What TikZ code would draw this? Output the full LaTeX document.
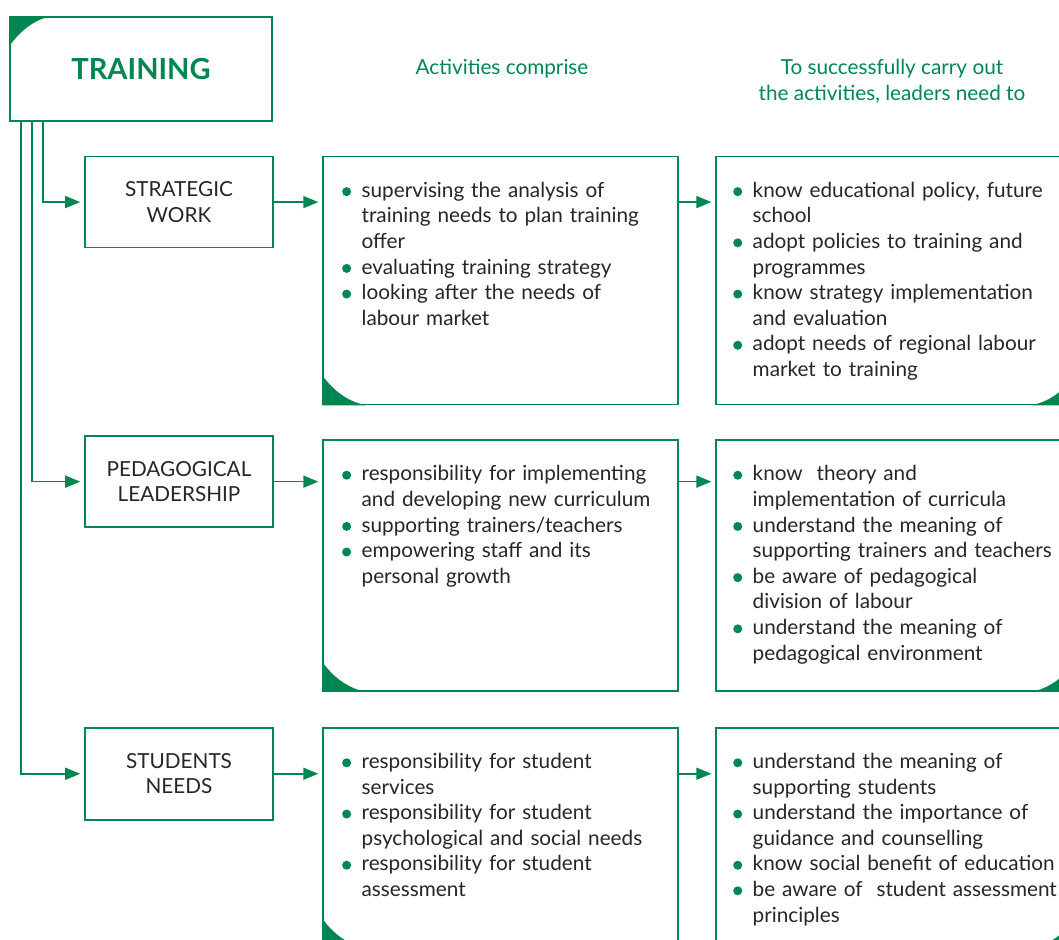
\documentclass[tikz,border=0pt]{standalone}
\usepackage{fontspec}
\setmainfont{Lato}
\usetikzlibrary{positioning}
\usetikzlibrary{arrows.meta}
\definecolor{tgreen}{RGB}{0,135,81}
\definecolor{tgray}{RGB}{38,38,38}
\def\lw{0.9pt}
\newcommand\bodyfont{\fontsize{11.8}{14.57}\selectfont}
\newcommand\bitem{\par\noindent\hangindent=0.46cm\hangafter=1%
  \makebox[0.46cm][l]{\hspace{0.07cm}\tikz[baseline={(0,-0.27em)}]\fill[tgreen] (0,0) circle (0.09cm);}}
\tikzset{
box/.style={draw=tgreen, line width=\lw, inner sep=0pt, text=tgray, font=\bodyfont},
smallbox/.style={box, minimum width=3.76cm, minimum height=1.82cm, align=center},
actbox/.style={box, minimum width=7.10cm, minimum height=#1},
needbox/.style={box, minimum width=7.16cm, minimum height=#1},
itemlist/.style={text width=6.8cm, align=left, inner sep=0pt, text=tgray, font=\bodyfont},
heading/.style={text=tgreen, font=\bodyfont, align=center},
conn/.style={draw=tgreen, line width=\lw, -{Triangle[length=0.3cm,width=0.24cm]}, shorten >=0.08cm},
}

\begin{document}
\begin{tikzpicture}
\useasboundingbox (0,0) rectangle (21.18,-18.8);
\clip (0,0) rectangle (21.18,-18.8);

\node[box, minimum width=5.24cm, minimum height=2.08cm] (train) at (2.82,-1.38)
  {\fontsize{16.5}{18}\selectfont\bfseries\textcolor{tgreen}{TRAINING}};
\node[heading] (hact) at (10.04,-1.38) {Activities comprise};
\node[heading] (hneed) at (17.84,-1.62) {To successfully carry out\\the activities, leaders need to};

%
\node[smallbox, below right=0.68cm and 1.5cm of train.south west] (strat) {STRATEGIC\\WORK};
\node[smallbox, below=3.74cm of strat] (ped) {PEDAGOGICAL\\LEADERSHIP};
\node[smallbox, below=3.98cm of ped, minimum height=1.84cm] (stud) {STUDENTS\\NEEDS};

\node[actbox=4.96cm, below right=0cm and 0.97cm of strat.north east] (act1) {};
\node[actbox=5.02cm, below right=0.08cm and 0.97cm of ped.north east] (act2) {};
\node[actbox=4.40cm, below right=0cm and 0.97cm of stud.north east] (act3) {};

\node[needbox=4.96cm, right=0.73cm of act1.north east, anchor=north west] (need1) {};
\node[needbox=5.02cm, right=0.73cm of act2.north east, anchor=north west] (need2) {};
\node[needbox=4.40cm, right=0.73cm of act3.north east, anchor=north west] (need3) {};

%
\fill[tgreen] (train.north west) -- ++(0,-0.6) .. controls +(0.24,0.33) and +(-0.33,-0.07) .. ([xshift=0.84cm]train.north west) -- cycle;
\fill[tgreen] (act1.south west) -- ++(0,0.6) .. controls +(0.24,-0.33) and +(-0.35,0.07) .. ([xshift=0.88cm]act1.south west) -- cycle;
\fill[tgreen] (act2.south west) -- ++(0,0.6) .. controls +(0.24,-0.33) and +(-0.35,0.07) .. ([xshift=0.88cm]act2.south west) -- cycle;
\fill[tgreen] (act3.south west) -- ++(0,0.6) .. controls +(0.24,-0.33) and +(-0.35,0.07) .. ([xshift=0.88cm]act3.south west) -- cycle;
\fill[tgreen] (need1.south east) -- ++(0,0.6) .. controls +(-0.24,-0.33) and +(0.35,0.07) .. ([xshift=-0.88cm]need1.south east) -- cycle;
\fill[tgreen] (need2.south east) -- ++(0,0.6) .. controls +(-0.24,-0.33) and +(0.35,0.07) .. ([xshift=-0.88cm]need2.south east) -- cycle;
\fill[tgreen] (need3.south east) -- ++(0,0.6) .. controls +(-0.24,-0.33) and +(0.35,0.07) .. ([xshift=-0.88cm]need3.south east) -- cycle;

%
\node[itemlist, below right=0.31cm and 0.32cm of act1.north west] (list1) {%
\bitem supervising the analysis of\newline training needs to plan training\newline offer
\bitem evaluating training strategy
\bitem looking after the needs of\newline labour market\par};
\node[itemlist, below right=0.31cm and 0.28cm of need1.north west] (lead1) {%
\bitem know educational policy, future\newline school
\bitem adopt policies to training and\newline programmes
\bitem know strategy implementation\newline and evaluation
\bitem adopt needs of regional labour\newline market to training\par};

\node[itemlist, below right=0.31cm and 0.32cm of act2.north west] (list2) {%
\bitem responsibility for implementing\newline and developing new curriculum
\bitem supporting trainers/teachers
\bitem empowering staff and its\newline personal growth\par};
\node[itemlist, below right=0.31cm and 0.28cm of need2.north west] (lead2) {%
\bitem know~ theory and\newline implementation of curricula
\bitem understand the meaning of\newline supporting trainers and teachers
\bitem be aware of pedagogical\newline division of labour
\bitem understand the meaning of\newline pedagogical environment\par};

\node[itemlist, below right=0.31cm and 0.32cm of act3.north west] (list3) {%
\bitem responsibility for student\newline services
\bitem responsibility for student\newline psychological and social needs
\bitem responsibility for student\newline assessment\par};
\node[itemlist, below right=0.31cm and 0.28cm of need3.north west] (lead3) {%
\bitem understand the meaning of\newline supporting students
\bitem understand the importance of\newline guidance and counselling
\bitem know social benefit of education
\bitem be aware of~ student assessment\newline principles\par};

%
\draw[conn] ([xshift=0.68cm]train.south west) |- (strat);
\draw[conn] ([xshift=0.46cm]train.south west) |- (ped);
\draw[conn] ([xshift=0.24cm]train.south west) |- (stud);

\draw[conn] (strat) -- (strat -| act1.west);
\draw[conn] (ped) -- (ped -| act2.west);
\draw[conn] (stud) -- (stud -| act3.west);

\draw[conn] (strat -| act1.east) -- (strat -| need1.west);
\draw[conn] (ped -| act2.east) -- (ped -| need2.west);
\draw[conn] (stud -| act3.east) -- (stud -| need3.west);
\end{tikzpicture}
\end{document}
